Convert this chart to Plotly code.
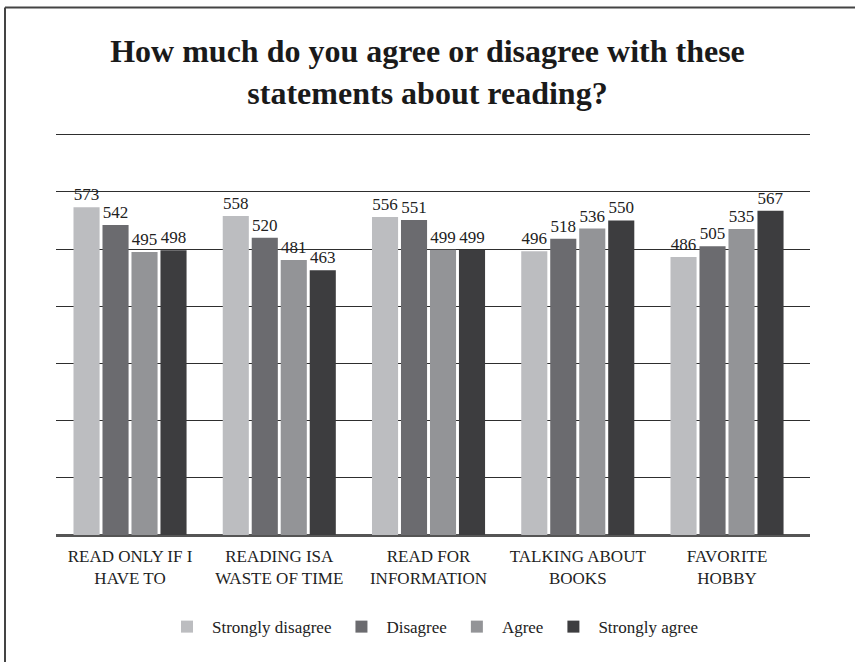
import plotly.graph_objects as go

categories = ["READ ONLY IF I<br>HAVE TO", "READING ISA<br>WASTE OF TIME", "READ FOR<br>INFORMATION",
              "TALKING ABOUT<br>BOOKS", "FAVORITE<br>HOBBY"]
series_names = ["Strongly disagree", "Disagree", "Agree", "Strongly agree"]
strongly_disagree = [573, 558, 556, 496, 486]
disagree = [542, 520, 551, 518, 505]
agree = [495, 481, 499, 536, 535]
strongly_agree = [498, 463, 499, 550, 567]
colors = ["#bcbdc0", "#6b6b6f", "#939497", "#3d3d3f"]

values = [strongly_disagree, disagree, agree, strongly_agree]

FONT = "Liberation Serif"
W, H = 855, 662
L, R_EDGE, BASE = 56, 810, 535
YMAX = 710
PX_PER_UNIT = 0.5714
TOP = BASE - YMAX * PX_PER_UNIT
plot_h = BASE - TOP
plot_w = R_EDGE - L

fig = go.Figure()
for name, vals, col in zip(series_names, values, colors):
    fig.add_trace(go.Bar(
        x=categories, y=vals, name=name, marker=dict(color=col, line=dict(width=0)),
        text=[str(v) for v in vals], textposition="outside", textangle=0,
        textfont=dict(family=FONT, size=17, color="#222"), cliponaxis=False,
    ))

fig.update_layout(
    width=W, height=H,
    margin=dict(l=L, r=W - R_EDGE, t=TOP, b=H - BASE, pad=0),
    paper_bgcolor="white", plot_bgcolor="white",
    barmode="group", bargap=0.223, bargroupgap=0.1,
    font=dict(family=FONT, color="#222"),
    title=dict(text="<b>How much do you agree or disagree with these<br>statements about reading?</b>",
               x=0.5, xanchor="center", y=1 - 62 / H, yanchor="middle", yref="container",
               font=dict(family=FONT, size=32, color="#1a1a1a")),
    legend=dict(orientation="h", x=0.5, xanchor="center", y=(BASE - 627) / plot_h, yanchor="middle",
                font=dict(family=FONT, size=17, color="#222"), itemwidth=40,
                traceorder="normal"),
)
fig.update_xaxes(range=[-0.496, 4.556], showline=False, ticks="", ticklabelstandoff=9,
                 tickfont=dict(family=FONT, size=17, color="#222"), showgrid=False)
fig.update_yaxes(range=[0, YMAX], dtick=100, showticklabels=False, showgrid=True,
                 gridcolor="#2e2e2e", gridwidth=1.4, zeroline=True, zerolinecolor="#555",
                 zerolinewidth=2.5, showline=False)

# border frame (top and left)
bx = (5 - L) / plot_w
by = (BASE - 8) / plot_h
fig.add_shape(type="line", xref="paper", yref="paper", x0=bx, x1=1.1, y0=by, y1=by,
              line=dict(color="#444", width=2))
fig.add_shape(type="line", xref="paper", yref="paper", x0=bx, x1=bx, y0=by, y1=-0.35,
              line=dict(color="#444", width=2))

fig.write_html("out.html", config={"displayModeBar": False},
               post_script="document.body.style.margin='0';")
